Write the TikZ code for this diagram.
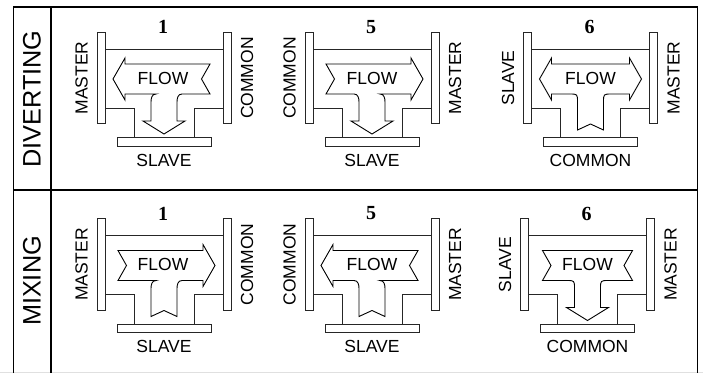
\documentclass[tikz,border=0pt]{standalone}
\usepackage{fontspec}
\setmainfont{Liberation Sans}
\newfontfamily\numfont{Liberation Serif}
\tikzset{
  pipe/.style={line width=0.9pt, draw=black!85},
  flange/.style={line width=0.9pt, draw=black!85, fill=white},
  flowline/.style={line width=0.9pt, draw=black, fill=white, line join=miter},
  frame/.style={line width=1.6pt, draw=black},
  lbl/.style={font=\fontsize{17.5}{18}\selectfont, inner sep=0pt},
  rowlbl/.style={font=\fontsize{25.3}{26}\selectfont, inner sep=0pt, rotate=90},
  num/.style={font=\numfont\bfseries\fontsize{20}{21}\selectfont, inner sep=0pt},
}
% #1 name, #2 cx, #3 cy, #4 left label, #5 right label, #6 bottom label, #7 number
\newcommand\valvebody[7]{%
  \begin{scope}[shift={(#2,#3)}]
    \draw[pipe] (-59,49) -- (59,49);
    \draw[pipe] (-59,108) -- (-30,108) -- (-30,137.5);
    \draw[pipe] (59,108) -- (30,108) -- (30,137.5);
    \draw[flange] (-67,32) rectangle (-59,123.5);
    \draw[flange] (59,32) rectangle (67,123.5);
    \draw[flange] (-47,137.5) rectangle (47,146);
    \node[lbl, rotate=90] (#1-l) at (-82.5,78) {#4};
    \node[lbl, rotate=90] (#1-r) at (83,78) {#5};
    \node[lbl] (#1-b) at (0,160) {#6};
    \node[num] (#1-n) at (-1,27) {#7};
  \end{scope}}
% diverting, single head sideways (to -x), head down, hooked junction
\newcommand\flowdivone{%
  \draw[flowline] (-51,79) -- (-39,58) -- (-39,64) -- (46,64) -- (37.5,79) -- (46,94)
    -- (18,94) .. controls (14,94) and (13,98) .. (13,102) -- (13,121) -- (21,121)
    -- (0,134) -- (-21,121) -- (-13,121) -- (-13,102)
    .. controls (-13,98) and (-12,94) .. (-8,94) -- (-39,94) -- (-39,100) -- cycle;}
% mixing, single head sideways (to +x), tail stem, hooked junction
\newcommand\flowmixone{%
  \draw[flowline] (-46,64) -- (39,64) -- (39,58) -- (51,79) -- (39,100) -- (39,94)
    -- (18,94) .. controls (14,94) and (13,98) .. (13,102) -- (13,130) -- (0,124)
    -- (-13,130) -- (-13,102)
    .. controls (-13,98) and (-12,94) .. (-8,94) -- (-46,94) -- (-37.5,79) -- cycle;}
\begin{document}
\begin{tikzpicture}[x=1pt,y=-1pt]
  \useasboundingbox (0,0) rectangle (703,373);
  \fill[black!12] (0,371.8) rectangle (703,373);
  % frame
  \draw[frame] (13.3,373) -- (13.3,6.7) -- (697.5,6.7) -- (697.5,373);
  \draw[frame] (51,6.7) -- (51,373);
  \draw[frame] (13.3,190) -- (697.5,190);
  \node[rowlbl] (rowdiv) at (32,99) {DIVERTING};
  \node[rowlbl] (rowmix) at (32,281) {MIXING};
  % diverting row
  \valvebody{d1}{164}{0}{MASTER}{COMMON}{SLAVE}{1}
  \valvebody{d5}{372}{0}{COMMON}{MASTER}{SLAVE}{5}
  \valvebody{d6}{590.5}{0}{SLAVE}{MASTER}{COMMON}{6}
  \begin{scope}[shift={(164,0)}] \flowdivone \end{scope}
  \begin{scope}[shift={(372,0)}, xscale=-1] \flowdivone \end{scope}
  \begin{scope}[shift={(590.5,0)}]
    \draw[flowline] (-51,79) -- (-39,58) -- (-39,64) -- (39,64) -- (39,58) -- (51,79)
      -- (39,100) -- (39,94) -- (21,94) .. controls (13,94) .. (13,102) -- (13,130)
      -- (0,124) -- (-13,130) -- (-13,102) .. controls (-13,94) .. (-21,94)
      -- (-39,94) -- (-39,100) -- cycle;
  \end{scope}
  \node[lbl] (fd1) at (163,78) {FLOW};
  \node[lbl] (fd5) at (372,78) {FLOW};
  \node[lbl] (fd6) at (590.5,78) {FLOW};
  % mixing row
  \valvebody{m1}{164}{186.5}{MASTER}{COMMON}{SLAVE}{1}
  \valvebody{m5}{372}{186.5}{COMMON}{MASTER}{SLAVE}{5}
  \valvebody{m6}{587.5}{186.5}{SLAVE}{MASTER}{COMMON}{6}
  \begin{scope}[shift={(164,186.5)}] \flowmixone \end{scope}
  \begin{scope}[shift={(372,186.5)}, xscale=-1] \flowmixone \end{scope}
  \begin{scope}[shift={(587.5,186.5)}]
    \draw[flowline] (-45,64) -- (45,64) -- (36.5,79) -- (45,94) -- (21,94)
      .. controls (13,94) .. (13,102) -- (13,121) -- (21,121) -- (0,134) -- (-21,121)
      -- (-13,121) -- (-13,102) .. controls (-13,94) .. (-21,94) -- (-45,94)
      -- (-36.5,79) -- cycle;
  \end{scope}
  \node[lbl] (fm1) at (163,264.5) {FLOW};
  \node[lbl] (fm5) at (372,264.5) {FLOW};
  \node[lbl] (fm6) at (587.5,264.5) {FLOW};
\end{tikzpicture}
\end{document}
